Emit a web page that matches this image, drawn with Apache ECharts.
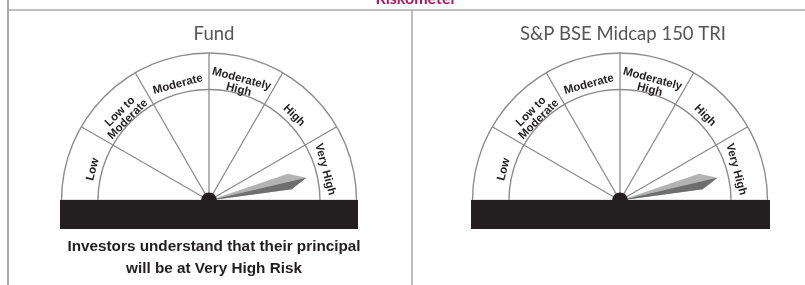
<!DOCTYPE html>
<html>
<head>
<meta charset="utf-8">
<script src="https://cdn.jsdelivr.net/npm/echarts@6/dist/echarts.min.js"></script>
<style>
  html, body { margin: 0; padding: 0; background: #fff; }
  #riskometer { width: 805px; height: 285px; }
</style>
</head>
<body>
<div id="riskometer"></div>
<script>
// risk bands, left to right round the dial
var riskLevels = ['Low', 'Low to\nModerate', 'Moderate', 'Moderately\nHigh', 'High', 'Very High'];
var panelTitles = ['Fund', 'S&P BSE Midcap 150 TRI'];
// needle position on the 0..6 band scale
var needleValues = [5.56, 5.56];
var footNote = 'Investors understand that their principal\nwill be at Very High Risk';

var centers = [[209, 200.5], [620, 200.5]];
var R = 147.5, R_IN = 111;
var ink = '#231f20', rule = '#8c8c8c';
var labelFont = '"Liberation Sans Narrow", "Liberation Sans", Arial, sans-serif';

function dialSeries(c, value) {
    var base = {
        type: 'gauge',
        center: c,
        radius: R,
        startAngle: 180,
        endAngle: 0,
        min: 0,
        max: riskLevels.length,
        splitNumber: riskLevels.length,
        axisTick: { show: false },
        axisLabel: { show: false },
        splitLine: { show: false },
        pointer: { show: false },
        anchor: { show: false },
        title: { show: false },
        detail: { show: false },
        silent: true,
        animation: false
    };
    var list = [];
    // white band + spokes
    list.push(Object.assign({}, base, {
        z: 2,
        axisLine: { lineStyle: { width: R - R_IN, color: [[1, '#fff']] } },
        splitLine: { show: true, distance: -(R - R_IN), length: '100%', lineStyle: { color: rule, width: 1.3 } }
    }));
    // outer and inner arc
    list.push(Object.assign({}, base, {
        z: 3, radius: R + 0.7,
        axisLine: { lineStyle: { width: 1.4, color: [[1, rule]] } }
    }));
    list.push(Object.assign({}, base, {
        z: 3, radius: R_IN + 0.7,
        axisLine: { lineStyle: { width: 1.4, color: [[1, rule]] } }
    }));
    // band labels, placed on half steps
    list.push(Object.assign({}, base, {
        z: 4,
        max: riskLevels.length * 2,
        splitNumber: riskLevels.length * 2,
        axisLine: { show: false, lineStyle: { width: 1 } },
        splitLine: { show: false, length: 0 },
        axisLabel: {
            show: true,
            rotate: 'tangential',
            distance: R - (R + R_IN) / 2 - 1,
            color: ink,
            fontFamily: labelFont,
            fontWeight: 'bold',
            fontSize: 11.5,
            lineHeight: 11,
            formatter: function (v) {
                return v % 2 === 1 ? riskLevels[(v - 1) / 2] : '';
            }
        }
    }));
    // needle: light full kite, dark lower half on top
    list.push(Object.assign({}, base, {
        z: 5,
        pointer: {
            show: true,
            icon: 'path://M0 100 L-8 17 L0 0 L8 17 Z',
            width: 16, length: 100,
            itemStyle: { color: '#b3b3b3' }
        },
        axisLine: { show: false },
        data: [{ value: value }]
    }));
    list.push(Object.assign({}, base, {
        z: 6,
        pointer: {
            show: true,
            icon: 'path://M0 100 L0 0 L8 17 Z M0 100 L-8 17 Z',
            width: 16, length: 100,
            itemStyle: { color: '#6e6e6e' }
        },
        anchor: { show: true, showAbove: true, size: 16, itemStyle: { color: ink } },
        axisLine: { show: false },
        data: [{ value: value }]
    }));
    return list;
}

var series = [];
centers.forEach(function (c, i) {
    series = series.concat(dialSeries(c, needleValues[i]));
});

var chart = echarts.init(document.getElementById('riskometer'));
chart.setOption({
    backgroundColor: '#fff',
    title: [
        { text: 'Riskometer', left: 411, top: -14, textAlign: 'center',
          textStyle: { color: '#b0175e', fontFamily: 'Lato', fontSize: 16, fontWeight: 'bold' } },
        { text: panelTitles[0], left: 209, top: 20, textAlign: 'center',
          textStyle: { color: '#555', fontFamily: 'Lato', fontSize: 18.5, fontWeight: 'normal' } },
        { text: panelTitles[1], left: 618, top: 20, textAlign: 'center',
          textStyle: { color: '#555', fontFamily: 'Lato', fontSize: 18.5, fontWeight: 'normal' } },
        { text: footNote, left: 209, top: 231, textAlign: 'center',
          textStyle: { color: ink, fontFamily: labelFont, fontSize: 15.3, fontWeight: 'bold', lineHeight: 22 } }
    ],
    graphic: [
        { type: 'rect', z: 50, shape: { x: 60, y: 200, width: 298, height: 29 }, style: { fill: ink } },
        { type: 'rect', z: 50, shape: { x: 471, y: 200, width: 299, height: 29 }, style: { fill: ink } },
        { type: 'line', z: 60, shape: { x1: 8, y1: 0, x2: 8, y2: 285 }, style: { stroke: '#aaa', lineWidth: 2 } },
        { type: 'line', z: 60, shape: { x1: 8, y1: 10, x2: 805, y2: 10 }, style: { stroke: '#aaa', lineWidth: 1.5 } },
        { type: 'line', z: 60, shape: { x1: 412, y1: 10, x2: 412, y2: 285 }, style: { stroke: '#aaa', lineWidth: 1.5 } }
    ],
    series: series
});
</script>
</body>
</html>
